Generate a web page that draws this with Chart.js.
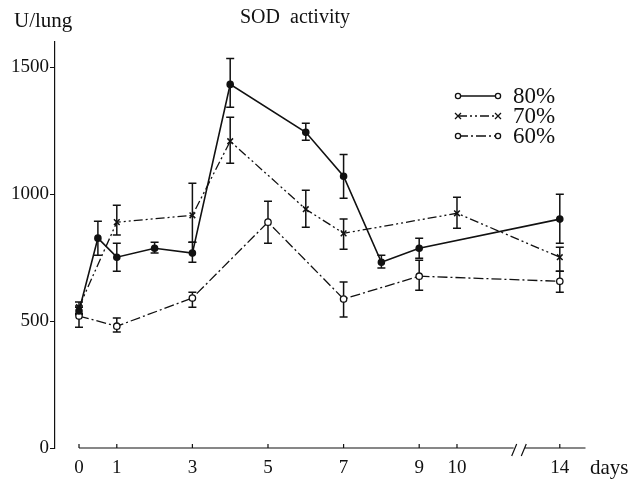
<!DOCTYPE html>
<html>
<head>
<meta charset="utf-8">
<script src="https://cdn.jsdelivr.net/npm/chart.js@4/dist/chart.umd.min.js"></script>
<style>
  html, body { margin: 0; padding: 0; background: #fff; }
  #wrap { width: 635px; height: 483px; }
</style>
</head>
<body>
<div id="wrap"><canvas id="sodChart" width="635" height="483"></canvas></div>
<script>
// days shown on the x axis (14 sits after a break)
const tickDays = [0, 1, 3, 5, 7, 9, 10, 14];
const yTicks = [0, 500, 1000, 1500];

// 80% O2
const days80 = [0, 0.5, 1, 2, 3, 4, 6, 7, 8, 9, 14];
const sod80 = [540, 827, 752, 787, 768, 1433, 1244, 1071, 732, 787, 902];
const lo80 = [525, 760, 697, 768, 732, 1343, 1213, 984, 709, 748, 807];
const hi80 = [560, 894, 807, 811, 811, 1535, 1280, 1157, 760, 827, 1000];

// 70% O2
const days70 = [0, 1, 3, 4, 6, 7, 10, 14];
const sod70 = [555, 890, 917, 1209, 941, 846, 925, 752];
const lo70 = [530, 839, 811, 1122, 870, 783, 866, 697];
const hi70 = [575, 957, 1043, 1303, 1016, 902, 988, 791];

// 60% O2
const days60 = [0, 1, 3, 5, 7, 9, 14];
const sod60 = [520, 480, 591, 890, 587, 677, 657];
const lo60 = [476, 457, 555, 807, 516, 622, 614];
const hi60 = [555, 512, 614, 972, 654, 740, 697];

const INK = '#111';
const SERIF = '"Liberation Serif", "DejaVu Serif", serif';

// axis is compressed after day 10 (broken axis)
function axisX(d) {
  return d <= 10 ? d : 10 + (d - 10) * 0.68;
}

function pts(days, vals) {
  return days.map((d, i) => ({ x: axisX(d), y: vals[i] }));
}

const errors = [[lo80, hi80], [lo70, hi70], [lo60, hi60]];

const errorBars = {
  id: 'errorBars',
  beforeDatasetsDraw(chart) {
    const ctx = chart.ctx;
    const ys = chart.scales.y;
    ctx.save();
    ctx.strokeStyle = INK;
    ctx.lineWidth = 1.5;
    ctx.setLineDash([]);
    chart.data.datasets.forEach((ds, di) => {
      const meta = chart.getDatasetMeta(di);
      const [lo, hi] = errors[di];
      meta.data.forEach((p, i) => {
        const yl = ys.getPixelForValue(lo[i]);
        const yh = ys.getPixelForValue(hi[i]);
        ctx.beginPath();
        ctx.moveTo(p.x, yl); ctx.lineTo(p.x, yh);
        ctx.moveTo(p.x - 4, yl); ctx.lineTo(p.x + 4, yl);
        ctx.moveTo(p.x - 4, yh); ctx.lineTo(p.x + 4, yh);
        ctx.stroke();
      });
    });
    ctx.restore();
  }
};

const decor = {
  id: 'decor',
  afterDraw(chart) {
    const ctx = chart.ctx;
    const xs = chart.scales.x, ys = chart.scales.y;
    const y0 = ys.getPixelForValue(0);
    const xStart = xs.getPixelForValue(0);
    const b1 = xs.getPixelForValue(11.5), b2 = xs.getPixelForValue(11.78);
    ctx.save();
    ctx.strokeStyle = INK;
    ctx.lineWidth = 1.2;
    // x axis line with break
    ctx.beginPath();
    ctx.moveTo(xStart, y0); ctx.lineTo(b1, y0);
    ctx.moveTo(b2, y0); ctx.lineTo(chart.chartArea.right, y0);
    ctx.moveTo(b1 - 2, y0 + 8); ctx.lineTo(b1 + 3, y0 - 4);
    ctx.moveTo(b2 - 3, y0 + 8); ctx.lineTo(b2 + 2, y0 - 4);
    tickDays.forEach(d => {
      const px = xs.getPixelForValue(axisX(d));
      ctx.moveTo(px, y0); ctx.lineTo(px, y0 - 4);
    });
    ctx.stroke();

    ctx.fillStyle = INK;
    ctx.textBaseline = 'middle';
    ctx.textAlign = 'left';
    ctx.font = '21px ' + SERIF;
    ctx.fillText('days', 590, 468);
    ctx.fillText('U/lung', 14, 21);
    ctx.font = '20px ' + SERIF;
    ctx.fillText('SOD  activity', 240, 18);

    // legend
    const items = [
      { label: '80%', dash: [], mark: 'circle' },
      { label: '70%', dash: [9, 3, 2, 3, 2, 3], mark: 'cross' },
      { label: '60%', dash: [10, 3, 2, 3], mark: 'circle' }
    ];
    const lx1 = 458, lx2 = 498;
    items.forEach((it, i) => {
      const ly = 96 + i * 20;
      ctx.setLineDash(it.dash);
      ctx.lineWidth = 1.3;
      ctx.beginPath();
      ctx.moveTo(lx1, ly); ctx.lineTo(lx2, ly);
      ctx.stroke();
      ctx.setLineDash([]);
      [lx1, lx2].forEach(mx => {
        ctx.beginPath();
        if (it.mark === 'circle') {
          ctx.arc(mx, ly, 2.6, 0, Math.PI * 2);
          ctx.fillStyle = '#fff';
          ctx.fill();
        } else {
          ctx.moveTo(mx - 3, ly - 3); ctx.lineTo(mx + 3, ly + 3);
          ctx.moveTo(mx - 3, ly + 3); ctx.lineTo(mx + 3, ly - 3);
        }
        ctx.stroke();
      });
      ctx.fillStyle = INK;
      ctx.font = '23px ' + SERIF;
      ctx.fillText(it.label, 513, ly + 1);
    });
    ctx.restore();
  }
};

new Chart(document.getElementById('sodChart'), {
  type: 'line',
  data: {
    datasets: [{
      label: '80%',
      data: pts(days80, sod80),
      borderColor: INK,
      borderWidth: 1.6,
      pointStyle: 'circle',
      pointRadius: 3,
      pointBackgroundColor: INK,
      pointBorderColor: INK
    }, {
      label: '70%',
      data: pts(days70, sod70),
      borderColor: INK,
      borderWidth: 1.3,
      borderDash: [9, 3, 2, 3, 2, 3],
      pointStyle: 'crossRot',
      pointRadius: 4,
      pointBorderWidth: 1.5,
      pointBorderColor: INK
    }, {
      label: '60%',
      data: pts(days60, sod60),
      borderColor: INK,
      borderWidth: 1.3,
      borderDash: [10, 3, 2, 3],
      pointStyle: 'circle',
      pointRadius: 3.2,
      pointBorderWidth: 1.3,
      pointBackgroundColor: '#fff',
      pointBorderColor: INK
    }]
  },
  options: {
    responsive: false,
    animation: false,
    layout: { padding: { top: 42, right: 49.5, left: 0, bottom: 0 } },
    plugins: {
      legend: { display: false },
      tooltip: { enabled: false },
      title: { display: false }
    },
    scales: {
      x: {
        type: 'linear',
        min: -0.635,
        max: 13.4,
        grid: { display: false, drawTicks: false },
        border: { display: false },
        afterBuildTicks: scale => { scale.ticks = tickDays.map(d => ({ value: axisX(d) })); },
        afterFit: scale => { scale.height = 35; },
        ticks: {
          autoSkip: false,
          maxRotation: 0,
          padding: 9,
          color: INK,
          font: { family: SERIF, size: 19 },
          callback: (v, i) => String(tickDays[i])
        }
      },
      y: {
        min: 0,
        max: 1600,
        grid: { drawOnChartArea: false, tickLength: 5, color: INK },
        border: { color: INK, width: 1.2 },
        afterBuildTicks: scale => { scale.ticks = yTicks.map(v => ({ value: v })); },
        afterFit: scale => { scale.width = 55; },
        ticks: {
          padding: 1,
          color: INK,
          font: { family: SERIF, size: 19 },
          callback: v => String(v)
        }
      }
    }
  },
  plugins: [errorBars, decor]
});
</script>
</body>
</html>
